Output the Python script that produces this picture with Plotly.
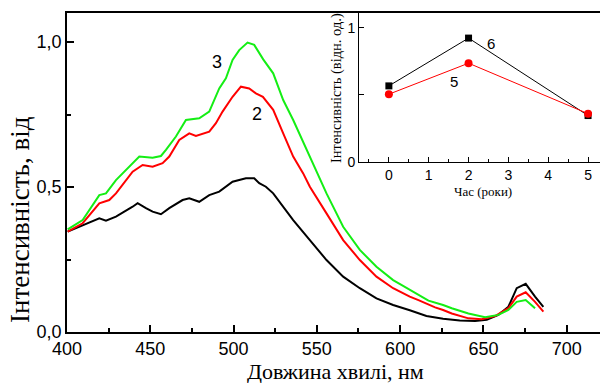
import plotly.graph_objects as go

# ---------------- data ----------------
wl_1 = [400.4, 409.4, 419.4, 423.4, 429.4, 439.4, 442.4, 447.4, 451.4, 456.4, 461.4, 469.4, 473.4,
        479.4, 485.4, 491.4, 499.4, 507.4, 512.4, 515.4, 519.4, 523.8, 529.8, 535.8, 545.8, 555.8,
        565.8, 575.8, 585.8, 595.8, 605.8, 615.8, 625.8, 635.8, 645, 652, 659, 665, 670, 675.4, 681, 686]
int_1 = [0.346, 0.369, 0.392, 0.384, 0.398, 0.432, 0.444, 0.427, 0.415, 0.406, 0.427, 0.455, 0.461,
         0.449, 0.472, 0.484, 0.518, 0.530, 0.530, 0.513, 0.501, 0.478, 0.432, 0.386, 0.317, 0.248,
         0.191, 0.151, 0.116, 0.093, 0.075, 0.055, 0.046, 0.040, 0.038, 0.042, 0.059, 0.087, 0.151, 0.166, 0.122, 0.087]

wl_2 = [400.4, 409.4, 419.4, 425.4, 429.4, 439.4, 445.4, 451.4, 457.4, 461.4, 467.4, 473.4, 477.4,
        485.4, 489.4, 493.4, 499.4, 504.4, 509.4, 513.4, 517.6, 523.8, 529.8, 535.8, 541.8, 545.8,
        555.8, 565.8, 575.8, 585.8, 595.8, 601, 605.8, 611, 615.8, 621, 625.8, 631, 641, 649, 657,
        665, 670, 675.4, 681, 686]
int_2 = [0.346, 0.375, 0.444, 0.455, 0.478, 0.553, 0.576, 0.570, 0.582, 0.605, 0.662, 0.685, 0.676,
         0.691, 0.720, 0.760, 0.811, 0.846, 0.840, 0.823, 0.811, 0.766, 0.685, 0.605, 0.547, 0.501,
         0.409, 0.317, 0.248, 0.191, 0.151, 0.135, 0.122, 0.110, 0.097, 0.085, 0.076, 0.064, 0.047, 0.044, 0.055,
         0.082, 0.122, 0.137, 0.104, 0.070]

wl_3 = [400.4, 409.4, 419.4, 423.4, 429.4, 439.4, 443.4, 451.4, 456.4, 459.4, 465.4, 471.4, 474.4,
        479.4, 485.4, 491.4, 495.4, 499.4, 503.4, 508.4, 512.4, 515.4, 517.8, 523.8, 529.8, 535.8,
        545.8, 555.8, 565.8, 575.8, 585.8, 595.8, 601, 605.8, 611, 617, 625.8, 631, 641, 651, 659,
        665, 670, 675.4, 681]
int_3 = [0.354, 0.386, 0.472, 0.478, 0.524, 0.582, 0.605, 0.601, 0.607, 0.628, 0.674, 0.731, 0.733,
         0.737, 0.760, 0.840, 0.875, 0.938, 0.972, 0.998, 0.990, 0.961, 0.940, 0.892, 0.800, 0.731,
         0.605, 0.478, 0.363, 0.283, 0.225, 0.179, 0.162, 0.145, 0.128, 0.108, 0.093, 0.082, 0.064, 0.051, 0.059,
         0.076, 0.104, 0.110, 0.082]

years = [0, 2, 5]
inset_6 = [0.567, 0.923, 0.346]
inset_5 = [0.505, 0.736, 0.360]

x_ticks = [400, 450, 500, 550, 600, 650, 700]
y_ticks = [0.0, 0.5, 1.0]
y_ticktext = ["0,0", "0,5", "1,0"]

# ---------------- geometry helpers ----------------
W, H = 600, 383
L, R, T, B = 67, 0, 13, 51
PW, PH = W - L - R, H - T - B


def px(x):
    return (x - L) / PW


def py(y):
    return (H - B - y) / PH


SANS = "Liberation Sans, Arial, sans-serif"
SERIF = "Liberation Serif, Times New Roman, serif"
GREEN = "#14ee14"

fig = go.Figure()
fig.add_trace(go.Scatter(x=wl_1, y=int_1, mode="lines", line=dict(color="black", width=2), showlegend=False))
fig.add_trace(go.Scatter(x=wl_2, y=int_2, mode="lines", line=dict(color="#ff0000", width=2), showlegend=False))
fig.add_trace(go.Scatter(x=wl_3, y=int_3, mode="lines", line=dict(color=GREEN, width=2), showlegend=False))

fig.add_trace(go.Scatter(x=years, y=inset_6, mode="lines+markers", xaxis="x2", yaxis="y2",
                         line=dict(color="black", width=1), cliponaxis=False,
                         marker=dict(symbol="square", size=7, color="black"), showlegend=False))
fig.add_trace(go.Scatter(x=years, y=inset_5, mode="lines+markers", xaxis="x2", yaxis="y2",
                         line=dict(color="#ff0000", width=1), cliponaxis=False,
                         marker=dict(symbol="circle", size=8, color="#ff0000"), showlegend=False))

axis_common = dict(showgrid=False, zeroline=False, showline=True, linecolor="black",
                   ticks="inside", tickcolor="black")

fig.update_layout(
    width=W, height=H,
    margin=dict(l=L, r=R, t=T, b=B),
    paper_bgcolor="white", plot_bgcolor="white",
    xaxis=dict(**axis_common, domain=[0, 1], range=[400, 720], tickvals=x_ticks,
               ticklen=7, tickwidth=1.5, linewidth=1.5, mirror=True,
               minor=dict(dtick=25, ticklen=4, tickcolor="black", ticks="inside", tickwidth=1.5),
               tickfont=dict(family=SANS, size=18, color="black")),
    yaxis=dict(**axis_common, domain=[0, 1], range=[0, 1.1], tickvals=y_ticks, ticktext=y_ticktext,
               ticklen=7, tickwidth=1.5, linewidth=1.5,
               minor=dict(tickvals=[0.25, 0.75], ticklen=4, tickcolor="black", ticks="inside", tickwidth=1.5),
               tickfont=dict(family=SANS, size=18, color="black")),
    xaxis2=dict(**axis_common, domain=[px(359), 1], anchor="y2", range=[-0.75, 5.3],
                tickvals=[0, 1, 2, 3, 4, 5], ticklen=5, linewidth=1, mirror=True,
                minor=dict(dtick=0.5, ticklen=3, tickcolor="black", ticks="inside"),
                tickfont=dict(family=SANS, size=14, color="black")),
    yaxis2=dict(**axis_common, domain=[py(162), 1], anchor="x2", range=[0, 1.11],
                tickvals=[0, 0.5, 1], ticktext=["0", "", "1"], ticklen=5, linewidth=1,
                tickfont=dict(family=SANS, size=14, color="black")),
)

ann = [
    dict(text="Довжина хвилі, нм", x=px(335), y=py(371), font=dict(family=SERIF, size=22)),
    dict(text="Інтенсивність, від", x=px(20), y=py(220), textangle=-90, font=dict(family=SERIF, size=27)),
    dict(text="3", x=px(217), y=py(62), font=dict(family=SANS, size=18)),
    dict(text="2", x=px(257), y=py(114), font=dict(family=SANS, size=18)),
    dict(text="6", x=px(491), y=py(43), font=dict(family=SANS, size=15)),
    dict(text="5", x=px(454), y=py(81), font=dict(family=SANS, size=15)),
    dict(text="Інтенсивність (відн. од.)", x=px(336), y=py(88), textangle=-90, font=dict(family=SERIF, size=14.5)),
    dict(text="Час (роки)", x=px(483), y=py(192), font=dict(family=SERIF, size=13)),
]
for a in ann:
    a.update(xref="paper", yref="paper", showarrow=False, xanchor="center", yanchor="middle")
    a["font"]["color"] = "black"
fig.update_layout(annotations=ann)

fig.write_html("out.html", config={"displayModeBar": False},
               post_script="document.body.style.margin='0';document.body.style.overflow='hidden';")
